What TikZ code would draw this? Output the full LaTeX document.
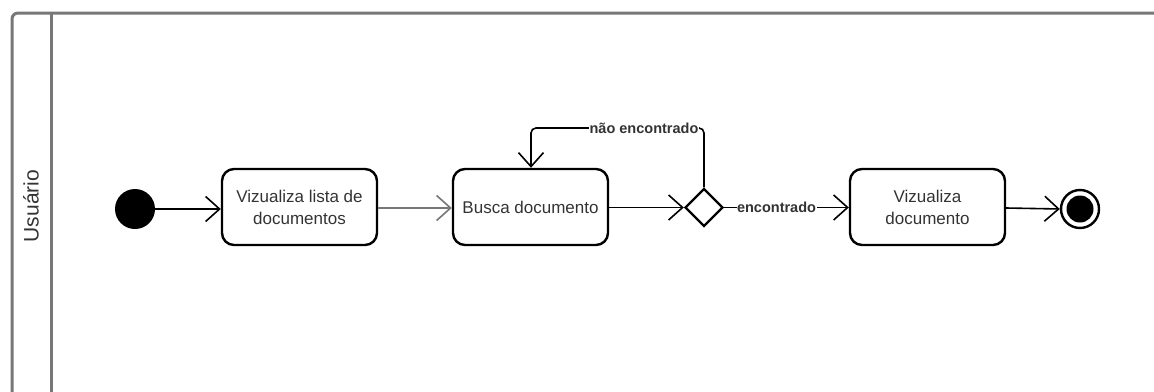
\documentclass[tikz,border=0pt]{standalone}
\usepackage{fontspec}
\setmainfont{Liberation Sans}
\usetikzlibrary{arrows.meta,shapes.geometric}
\definecolor{txt}{HTML}{333333}
\definecolor{frame}{HTML}{777777}
\begin{document}
\begin{tikzpicture}[x=1pt,y=-1pt,
  act/.style={draw=black,line width=2.4pt,rounded corners=12pt,minimum width=155pt,minimum height=76pt,
    align=center,text=txt,font=\fontsize{17}{22}\selectfont,inner sep=0pt},
  flow/.style={line width=1.6pt,-{Straight Barb[length=14pt,width=25pt,line width=1.6pt]}},
  guard/.style={fill=white,inner sep=0.5pt,text=txt,font=\fontsize{14.5}{16}\bfseries\selectfont}]
\useasboundingbox (0,0) rectangle (1154,391);
\clip (0,0) rectangle (1154,391);
% pool
\draw[frame,line width=3pt,rounded corners=6pt] (12,400) -- (12,13) -- (1170,13);
\draw[frame,line width=3pt] (51,13) -- (51,400);
\node[rotate=90,text=txt,font=\fontsize{21}{24}\selectfont] (lane) at (31,206) {Usuário};
% nodes
\node[circle,fill=black,minimum size=40pt,inner sep=0pt] (start) at (135,209) {};
\node[act] (a1) at (299.5,207) {Vizualiza lista de\\documentos};
\node[act] (a2) at (530.5,207) {Busca documento};
\node[diamond,draw=black,line width=2.4pt,fill=white,minimum width=38pt,minimum height=38pt,inner sep=0pt] (dec) at (704,207.5) {};
\node[act] (a3) at (927.5,207) {Vizualiza\\documento};
\node[circle,draw=black,line width=2.4pt,minimum size=38pt,inner sep=0pt] (end) at (1080,209) {};
\node[circle,fill=black,minimum size=27pt,inner sep=0pt] (endin) at (end.center) {};
% flows
\draw[flow] (start) -- (a1.west |- start);
\draw[flow,draw=frame] (a1.east |- 0,208) -- (a2.west |- 0,208);
\draw[flow] (a2.east |- dec) -- (dec.west);
\draw[flow] (dec.east) -- node[guard,pos=0.42] (g1) {encontrado} (a3.west |- dec);
\draw[flow] (a3.east |- 0,208) -- (end.west);
\coordinate (lc) at (531,128);
\draw[flow,rounded corners=5pt] (dec.north) |- (lc) -- (lc |- a2.north);
\node[guard] (g2) at (644,128) {não encontrado};
\end{tikzpicture}
\end{document}
